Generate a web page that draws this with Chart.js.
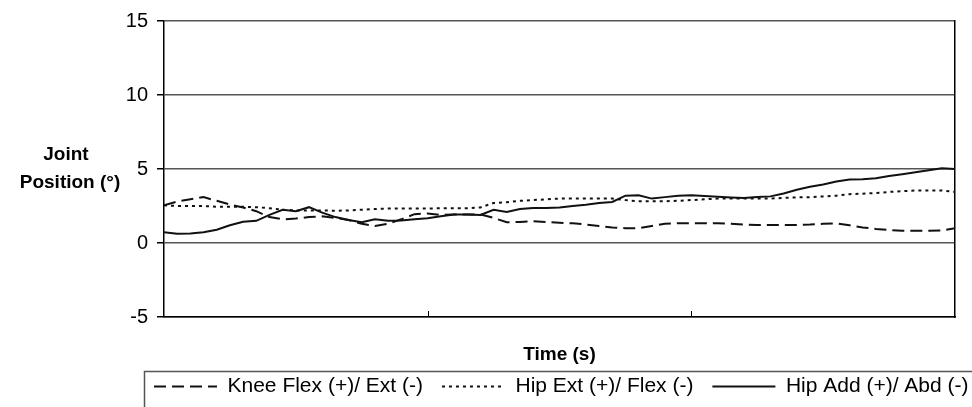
<!DOCTYPE html>
<html>
<head>
<meta charset="utf-8">
<title>Joint Position</title>
<script src="https://cdn.jsdelivr.net/npm/chart.js@4.4.0/dist/chart.umd.min.js"></script>
<style>
	html, body { margin: 0; padding: 0; background: #fff; }
	#wrap { width: 972px; height: 407px; }
</style>
</head>
<body>
<div id="wrap"><canvas id="joint-viz"></canvas></div>
<script>
// time samples (s) - no labels on the original x axis
var time_s = [ 0, 0.05, 0.1, 0.15, 0.2, 0.25, 0.3, 0.35, 0.4, 0.45, 0.5, 0.55, 0.6, 0.65, 0.7, 0.75, 0.8, 0.85, 0.9, 0.95,
               1, 1.05, 1.1, 1.15, 1.2, 1.25, 1.3, 1.35, 1.4, 1.45, 1.5, 1.55, 1.6, 1.65, 1.7, 1.75, 1.8, 1.85, 1.9, 1.95,
               2, 2.05, 2.1, 2.15, 2.2, 2.25, 2.3, 2.35, 2.4, 2.45, 2.5, 2.55, 2.6, 2.65, 2.7, 2.75, 2.8, 2.85, 2.9, 2.95, 3 ];

var knee_flex = [ 2.55, 2.8, 2.95, 3.1, 2.85, 2.6, 2.4, 2.15, 1.75, 1.6, 1.65, 1.75, 1.8, 1.7, 1.55, 1.3, 1.15, 1.3, 1.6, 1.95,
                  2.0, 1.9, 1.93, 1.93, 1.93, 1.7, 1.4, 1.42, 1.47, 1.42, 1.37, 1.33, 1.25, 1.15, 1.05, 1.0, 1.0, 1.15, 1.3, 1.33,
                  1.33, 1.33, 1.33, 1.3, 1.25, 1.22, 1.22, 1.22, 1.22, 1.25, 1.3, 1.33, 1.2, 1.05, 0.95, 0.88, 0.82, 0.82, 0.82, 0.85, 1.0 ];

var hip_ext = [ 2.55, 2.5, 2.5, 2.5, 2.45, 2.45, 2.45, 2.42, 2.35, 2.25, 2.2, 2.2, 2.2, 2.18, 2.2, 2.25, 2.3, 2.33, 2.33, 2.33,
                2.33, 2.35, 2.35, 2.35, 2.4, 2.7, 2.75, 2.85, 2.9, 2.95, 3.0, 3.0, 3.0, 3.0, 3.0, 2.9, 2.82, 2.82, 2.82, 2.85,
                2.9, 2.95, 3.0, 3.0, 3.0, 3.0, 3.0, 3.05, 3.08, 3.1, 3.15, 3.2, 3.3, 3.33, 3.38, 3.45, 3.5, 3.55, 3.55, 3.55, 3.45 ];

var hip_add = [ 0.73, 0.62, 0.65, 0.72, 0.9, 1.2, 1.44, 1.5, 1.9, 2.25, 2.15, 2.42, 2.05, 1.75, 1.55, 1.4, 1.6, 1.5, 1.52, 1.6,
                1.67, 1.8, 1.93, 1.92, 1.89, 2.25, 2.1, 2.3, 2.37, 2.37, 2.4, 2.5, 2.58, 2.7, 2.77, 3.2, 3.22, 3.0, 3.1, 3.2,
                3.22, 3.17, 3.12, 3.08, 3.04, 3.1, 3.15, 3.35, 3.6, 3.8, 3.95, 4.15, 4.29, 4.3, 4.38, 4.52, 4.65, 4.78, 4.92, 5.05, 5.0 ];

var series_labels = [ 'Knee Flex (+)/ Ext (-)', 'Hip Ext (+)/ Flex (-)', 'Hip Add (+)/ Abd (-)' ];
var yTick_step = 5;
var yMin = -5, yMax = 15;
var xMin = 0, xMax = 3;
var xTick_marks = [ 1, 2 ];   // small inside tick marks on the time axis

var FONT = "'Liberation Sans', Arial, sans-serif";
var PAD_LEFT = 40;

function to_points(yValues) {
	return time_s.map(function(t, i) { return { x: t, y: yValues[i] }; });
}

// y-axis title is horizontal, two lines, left of the tick labels
var yTitlePlugin = {
	id: 'yTitle',
	afterDraw: function(chart) {
		var ctx = chart.ctx;
		var yMid = chart.scales.y.getPixelForValue(5);
		ctx.save();
		ctx.fillStyle = '#000';
		ctx.font = 'bold 19px ' + FONT;
		ctx.textAlign = 'center';
		ctx.textBaseline = 'middle';
		ctx.fillText('Joint', 66, yMid - 14);
		ctx.fillText('Position (\u00B0)', 70, yMid + 14);
		ctx.restore();
	}
};

// legend starts under the plot, not at the canvas edge
var legendShiftPlugin = {
	id: 'legendShift',
	afterLayout: function(chart) {
		var shift = 135 - chart.legend.left;
		chart.legend.left += shift;
		chart.legend.right += shift;
	}
};

// tick marks pointing up into the plot, and the frame around the legend
var extrasPlugin = {
	id: 'extras',
	afterDraw: function(chart) {
		var ctx = chart.ctx;
		var xs = chart.scales.x;
		var bottom = chart.chartArea.bottom;
		ctx.save();
		ctx.strokeStyle = '#000';
		ctx.lineWidth = 1;
		xTick_marks.forEach(function(v) {
			var px = Math.round(xs.getPixelForValue(v)) + 0.5;
			ctx.beginPath();
			ctx.moveTo(px, bottom);
			ctx.lineTo(px, bottom - 6);
			ctx.stroke();
		});
		var lg = chart.legend;
		ctx.strokeStyle = '#555';
		ctx.lineWidth = 1.5;
		ctx.strokeRect(lg.left + 9.5, lg.top + 14.5, 1000, 200);
		ctx.restore();
	}
};

function legend_labels(chart) {
	var items = Chart.defaults.plugins.legend.labels.generateLabels(chart);
	items.forEach(function(item) {
		var ds = chart.data.datasets[item.datasetIndex];
		item.lineDash = ds.borderDash || [];
		item.lineWidth = ds.borderWidth;
		item.strokeStyle = ds.borderColor;
		item.fillStyle = 'rgba(0,0,0,0)';
	});
	return items;
}

function generate_joint_viz(canvas_id) {
	var common = { borderColor: '#111', backgroundColor: '#111', borderWidth: 2, pointRadius: 0, tension: 0, fill: false };
	var knee_dataset = Object.assign({ label: series_labels[0], data: to_points(knee_flex), borderDash: [12, 6] }, common);
	var ext_dataset  = Object.assign({ label: series_labels[1], data: to_points(hip_ext),   borderDash: [3, 4] }, common);
	var add_dataset  = Object.assign({ label: series_labels[2], data: to_points(hip_add) }, common);

	var ctx = document.getElementById(canvas_id);
	var cfg = {
		type: 'line',
		data: { datasets: [ knee_dataset, ext_dataset, add_dataset ] },
		options: {
			responsive: true,
			maintainAspectRatio: false,
			animation: false,
			devicePixelRatio: 1,
			layout: { padding: { left: PAD_LEFT, right: 0, top: 20, bottom: 0 } },
			plugins: {
				tooltip: { enabled: false },
				legend: {
					position: 'bottom',
					align: 'start',
					labels: {
						usePointStyle: true,
						pointStyle: 'line',
						pointStyleWidth: 63,
						padding: 19,
						color: '#000',
						font: { family: FONT, size: 21 },
						generateLabels: legend_labels
					}
				}
			},
			scales: {
				x: {
					type: 'linear', min: xMin, max: xMax,
					grid: { display: false, drawTicks: false },
					ticks: { display: false },
					border: { display: true, color: '#000', width: 1.5 },
					title: { display: true, text: 'Time (s)', color: '#000',
					         font: { family: FONT, size: 19, weight: 'bold' },
					         padding: { top: 0, bottom: -9 } },
					afterFit: function(scale) { scale.height = 40; }
				},
				y: {
					min: yMin, max: yMax,
					ticks: { stepSize: yTick_step, color: '#000', padding: 9, font: { family: FONT, size: 20 } },
					grid: { color: '#555', lineWidth: 1.5, tickColor: '#000', tickLength: 7 },
					border: { display: true, color: '#000', width: 1.5 },
					afterFit: function(scale) { scale.width = 164 - PAD_LEFT; }
				},
				y2: {
					position: 'right', min: yMin, max: yMax,
					grid: { display: false },
					ticks: { display: false },
					border: { display: true, color: '#000', width: 1.5 },
					afterFit: function(scale) { scale.width = 17; }
				}
			}
		},
		plugins: [ yTitlePlugin, legendShiftPlugin, extrasPlugin ]
	};
	new Chart(ctx, cfg);
} // generate_joint_viz

generate_joint_viz('joint-viz');
</script>
</body>
</html>
